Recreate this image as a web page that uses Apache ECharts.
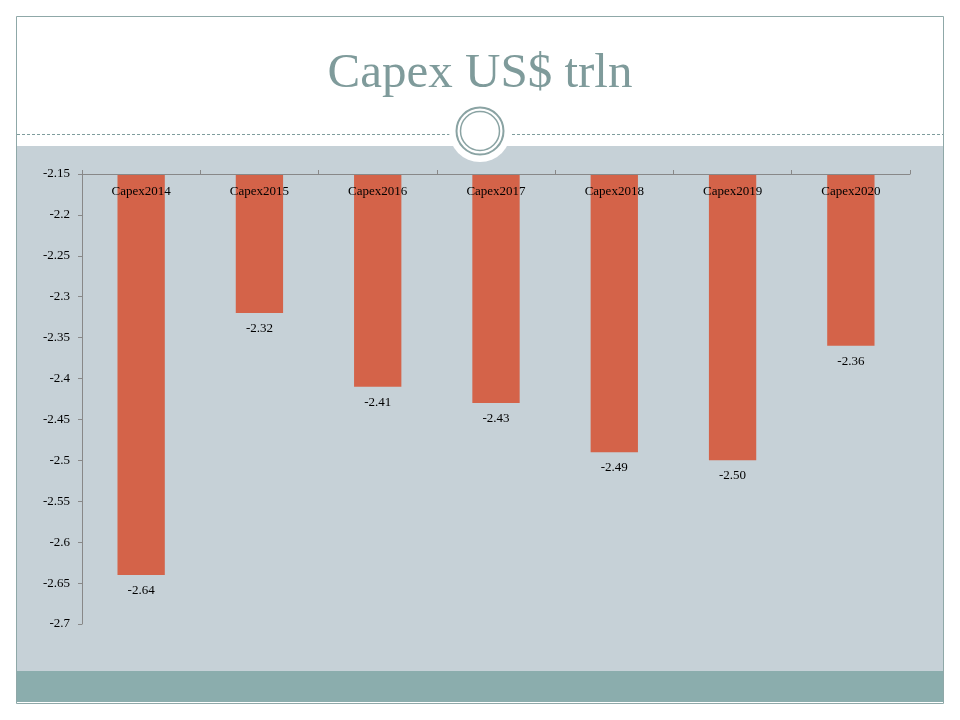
<!DOCTYPE html>
<html>
<head>
<meta charset="utf-8">
<script src="https://cdn.jsdelivr.net/npm/echarts@6/dist/echarts.min.js"></script>
<style>
  html, body { margin: 0; padding: 0; background: #fff; }
  #myChart { width: 960px; height: 720px; }
</style>
</head>
<body>
<div id="myChart"></div>
<script>
var categories = ['Capex2014', 'Capex2015', 'Capex2016', 'Capex2017', 'Capex2018', 'Capex2019', 'Capex2020'];
var capex = [-2.64, -2.32, -2.41, -2.43, -2.49, -2.50, -2.36];
var yMin = -2.7;
var yMax = -2.15;
var yStep = 0.05;

var chartDom = document.getElementById('myChart');
var myChart = echarts.init(chartDom, null, { renderer: 'canvas' });
var labelFont = 'Liberation Serif';

var option = {
  backgroundColor: '#ffffff',
  animation: false,
  graphic: [
    // slide frame
    { type: 'rect', z: -10, shape: { x: 16.5, y: 16.5, width: 927, height: 687 },
      style: { fill: '#ffffff', stroke: '#8fa8a8', lineWidth: 1 } },
    { type: 'rect', z: -9, shape: { x: 17, y: 146, width: 926, height: 525 },
      style: { fill: '#c6d1d7' } },
    { type: 'rect', z: -9, shape: { x: 17, y: 671, width: 926, height: 31 },
      style: { fill: '#8badad' } },
    { type: 'line', z: -8, shape: { x1: 17, y1: 134.5, x2: 943, y2: 134.5 },
      style: { stroke: '#7f9d9d', lineWidth: 1, lineDash: [3, 2] } },
    { type: 'circle', z: -7, shape: { cx: 480, cy: 131, r: 31 },
      style: { fill: '#ffffff' } },
    { type: 'circle', z: -6, shape: { cx: 480, cy: 131, r: 23.5 },
      style: { fill: 'none', stroke: '#8aa3a3', lineWidth: 2 } },
    { type: 'circle', z: -6, shape: { cx: 480, cy: 131, r: 19.5 },
      style: { fill: 'none', stroke: '#8aa3a3', lineWidth: 1.5 } },
    { type: 'text', z: -5, left: 'center', top: 50,
      style: { text: 'Capex US$ trln', fill: '#7f9b9b', font: '49px "Liberation Serif", serif' } }
  ],
  grid: {
    left: 82,
    right: 50,
    top: 174,
    bottom: 96,
    containLabel: false
  },
  xAxis: {
    type: 'category',
    position: 'top',
    z: 10,
    data: categories,
    axisLine: { lineStyle: { color: '#888888' } },
    axisTick: { show: true, inside: false, length: 4, lineStyle: { color: '#888888' } },
    axisLabel: {
      inside: true,
      margin: 11,
      color: '#000000',
      fontFamily: labelFont,
      fontSize: 13
    }
  },
  yAxis: {
    type: 'value',
    min: yMin,
    max: yMax,
    interval: yStep,
    splitLine: { show: false },
    axisLine: { show: true, lineStyle: { color: '#888888' } },
    axisTick: { show: true, length: 4, lineStyle: { color: '#888888' } },
    axisLabel: {
      color: '#000000',
      fontFamily: labelFont,
      fontSize: 13,
      margin: 12,
      formatter: function (v) { return String(Math.round(v * 100) / 100); }
    }
  },
  series: [
    {
      name: 'Capex',
      type: 'bar',
      data: capex,
      barWidth: '40%',
      clip: true,
      itemStyle: { color: '#d46349' },
      label: {
        show: true,
        position: 'bottom',
        distance: 9,
        color: '#000000',
        fontFamily: labelFont,
        fontSize: 13,
        formatter: function (p) { return p.value.toFixed(2); }
      }
    }
  ]
};

option && myChart.setOption(option);
</script>
</body>
</html>
